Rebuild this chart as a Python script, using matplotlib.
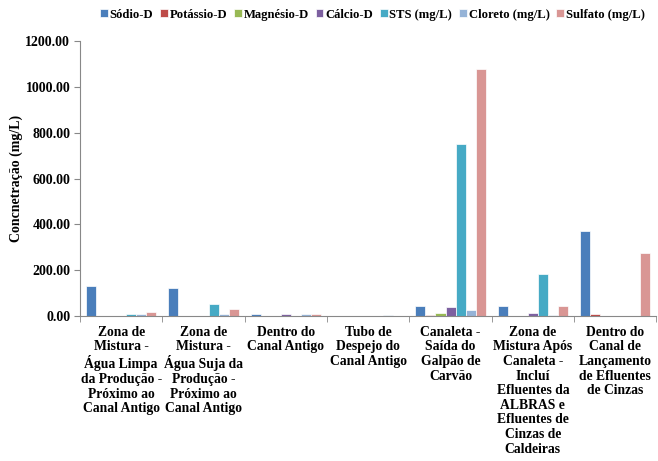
import numpy as np
import matplotlib.pyplot as plt

plt.rcParams['font.family'] = ['Liberation Serif', 'DejaVu Serif']
plt.rcParams['font.weight'] = 'bold'

categories = [
    "Zona de\nMistura -\nÁgua Limpa\nda Produção -\nPróximo ao\nCanal Antigo",
    "Zona de\nMistura -\nÁgua Suja da\nProdução -\nPróximo ao\nCanal Antigo",
    "Dentro do\nCanal Antigo",
    "Tubo de\nDespejo do\nCanal Antigo",
    "Canaleta -\nSaída do\nGalpão de\nCarvão",
    "Zona de\nMistura Após\nCanaleta -\nIncluí\nEfluentes da\nALBRAS e\nEfluentes de\nCinzas de\nCaldeiras",
    "Dentro do\nCanal de\nLançamento\nde Efluentes\nde Cinzas",
]
series = ["Sódio-D", "Potássio-D", "Magnésio-D", "Cálcio-D", "STS (mg/L)", "Cloreto (mg/L)", "Sulfato (mg/L)"]
sodio = [130, 122, 8, 2, 44, 44, 370]
potassio = [2, 2, 2, 2, 3, 2, 9]
magnesio = [1, 1, 1, 1, 13, 2, 2]
calcio = [1, 2, 8, 1, 38, 13, 2]
sts = [8, 52, 2, 1, 752, 182, 2]
cloreto = [10, 10, 7, 6, 26, 3, 2]
sulfato = [18, 30, 7, 1, 1078, 42, 275]
colors = ["#4A7EBB", "#BE4B48", "#98B954", "#7D60A0", "#46AAC5", "#95B3D7", "#D99694"]

values = [sodio, potassio, magnesio, calcio, sts, cloreto, sulfato]

fig = plt.figure(figsize=(6.58, 4.61), dpi=100)
ax = fig.add_axes([0.1216, 0.3145, 0.876, 0.5965])

x = np.arange(len(categories))
w = 0.122
for i, (name, vals) in enumerate(zip(series, values)):
    ax.bar(x + (i - 3) * w, vals, w, color=colors[i], label=name,
           edgecolor='white', linewidth=0.5)

ax.set_xlim(-0.5, len(categories) - 0.5)
ax.set_ylim(0, 1200)
ax.set_yticks(np.arange(0, 1201, 200))
ax.set_yticklabels([f"{v:.2f}" for v in np.arange(0, 1201, 200)], fontsize=10, fontweight='bold')
ax.set_xticks(x)
ax.set_xticklabels(categories, fontsize=9.8, fontweight='bold', linespacing=1.16, va='top')
ax.set_xticks(np.arange(-0.5, len(categories)), minor=True)
ax.tick_params(axis='x', which='major', length=0, pad=7)
ax.tick_params(axis='x', which='minor', length=4, color='#888888')
ax.tick_params(axis='y', length=4, color='#888888', pad=3)
ax.set_ylabel("Concnetração (mg/L)", fontsize=10, fontweight='bold', labelpad=2)

for s in ['top', 'right']:
    ax.spines[s].set_visible(False)
for s in ['left', 'bottom']:
    ax.spines[s].set_color('#888888')

ax.legend(loc='upper center', bbox_to_anchor=(0.566, 1.0), bbox_transform=fig.transFigure,
          ncol=7, frameon=False, prop={'size': 9.1, 'weight': 'bold'},
          handlelength=0.6, handleheight=0.6,
          handletextpad=0.15, columnspacing=0.55, borderaxespad=0.3)

fig.savefig("out.png", dpi=100)
